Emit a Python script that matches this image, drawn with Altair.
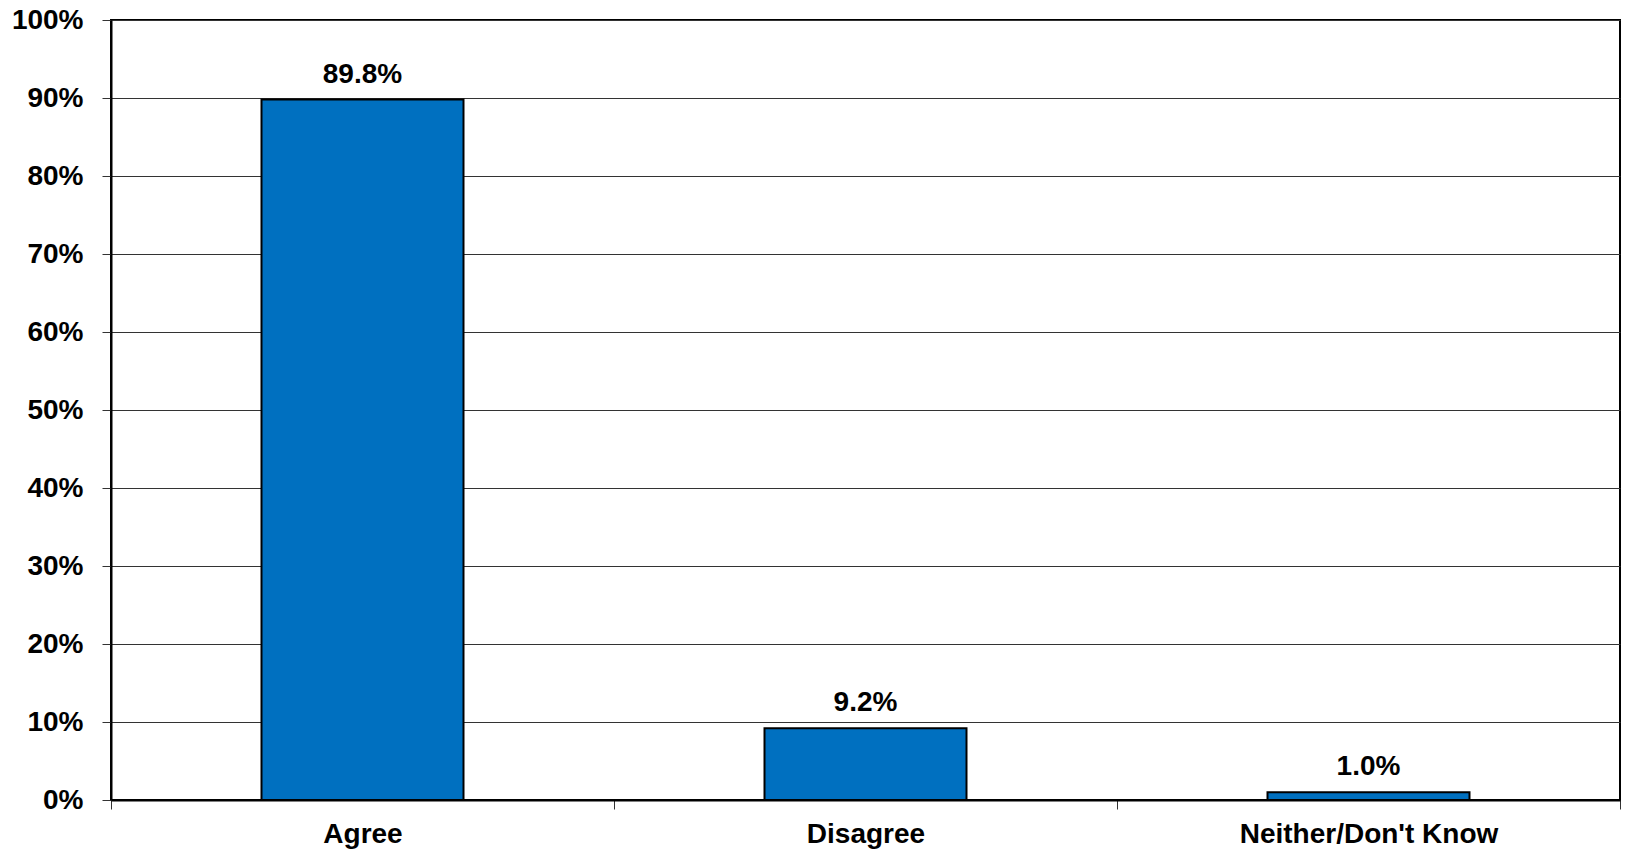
import altair as alt
import pandas as pd

categories = ["Agree", "Disagree", "Neither/Don't Know"]
values = [89.8, 9.2, 1.0]
labels = ["89.8%", "9.2%", "1.0%"]
y_ticks = [0, 10, 20, 30, 40, 50, 60, 70, 80, 90, 100]

df = pd.DataFrame({"cat": categories, "val": values, "lab": labels})

FONT = "Liberation Sans"
FS = 28

x = alt.X("cat:N", sort=categories, title=None,
          scale=alt.Scale(paddingInner=0, paddingOuter=0),
          axis=alt.Axis(labelAngle=0, tickBand="extent", domainColor="black",
                        domainWidth=2, tickColor="#333333", tickSize=9,
                        labelFont=FONT, labelFontSize=FS, labelFontWeight="bold",
                        labelColor="black", labelPadding=11, labelLimit=0,
                        grid=False))
y = alt.Y("val:Q", title=None,
          scale=alt.Scale(domain=[0, 100], nice=False),
          axis=alt.Axis(values=y_ticks, labelExpr="datum.value + '%'",
                        domainColor="black", domainWidth=2, tickColor="#333333",
                        tickSize=9, labelFont=FONT, labelFontSize=FS,
                        labelFontWeight="bold", labelColor="black",
                        labelPadding=19, grid=True, gridColor="#333333",
                        gridWidth=1))

bars = alt.Chart(df).mark_bar(size=202, color="#0070C0", stroke="black",
                              strokeWidth=2).encode(x=x, y=y)
text = alt.Chart(df).mark_text(baseline="alphabetic", dy=-17, font=FONT,
                               fontSize=FS, fontWeight="bold",
                               color="black").encode(
    x=alt.X("cat:N", sort=categories), y="val:Q", text="lab:N")

chart = (bars + text).properties(
    width=1509, height=780,
    autosize=alt.AutoSizeParams(type="none"),
    padding={"left": 103, "top": 12, "right": 1, "bottom": 49},
).configure_view(stroke="black", strokeWidth=2)

chart.save("out.html", embed_options={"renderer": "svg", "actions": False})
